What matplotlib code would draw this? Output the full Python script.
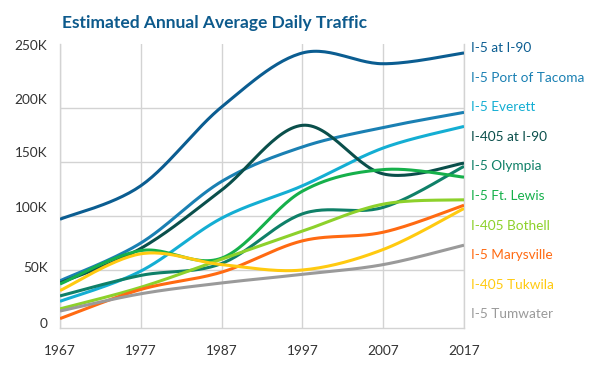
import matplotlib
matplotlib.use("Agg")
import matplotlib.pyplot as plt
import matplotlib.transforms as mtransforms
import numpy as np

plt.rcParams["font.family"] = ["Lato", "DejaVu Sans"]

# data (thousands of vehicles per day)
years = [1967, 1977, 1987, 1997, 2007, 2017]
route_names = [
    "I-5 at I-90", "I-5 Port of Tacoma", "I-5 Everett", "I-405 at I-90",
    "I-5 Olympia", "I-5 Ft. Lewis", "I-405 Bothell", "I-5 Marysville",
    "I-405 Tukwila", "I-5 Tumwater",
]
i5_at_i90 = [97, 128, 201, 251, 241, 251]
i5_tacoma = [40, 75, 132, 164, 182, 196]
i5_everett = [21, 49, 98, 128, 163, 183]
i405_at_i90 = [38, 70, 124, 184, 139, 149]
i5_olympia = [26, 45, 56, 102, 108, 146]
i5_ft_lewis = [37, 68, 61, 123, 143, 136]
i405_bothell = [14, 34, 60, 86, 111, 115]
i5_marysville = [5, 32, 48, 77, 85, 110]
i405_tukwila = [31, 65, 55, 50, 69, 107]
i5_tumwater = [12, 28, 38, 46, 55, 73]
series = [i5_at_i90, i5_tacoma, i5_everett, i405_at_i90, i5_olympia,
          i5_ft_lewis, i405_bothell, i5_marysville, i405_tukwila, i5_tumwater]
colours = ["#0b5d91", "#1a80b3", "#14aed3", "#0a4f4b", "#0f8068",
           "#16b04b", "#8dd12b", "#ff6a12", "#ffca10", "#9a9a9a"]

y_ticks = [0, 50, 100, 150, 200, 250]
y_tick_labels = ["0", "50K", "100K", "150K", "200K", "250K"]
x_ticks = [1967, 1977, 1987, 1997, 2007, 2017]

GRID = "#d3d3d3"
TEXT = "#333333"


def smooth(xs, ys, steps=30):
    """Excel-style smoothed line: cubic Bezier through every point."""
    pts = np.column_stack([xs, ys]).astype(float)
    padded = np.vstack([pts[0], pts, pts[-1]])
    out = []
    t = np.linspace(0, 1, steps)[:, None]
    for i in range(len(pts) - 1):
        p0, p1 = padded[i + 1], padded[i + 2]
        c1 = p0 + (padded[i + 2] - padded[i]) / 6
        c2 = p1 - (padded[i + 3] - padded[i + 1]) / 6
        seg = ((1 - t) ** 3 * p0 + 3 * (1 - t) ** 2 * t * c1
               + 3 * (1 - t) * t ** 2 * c2 + t ** 3 * p1)
        out.append(seg if i == 0 else seg[1:])
    out = np.vstack(out)
    return out[:, 0], out[:, 1]


fig = plt.figure(figsize=(5.95, 3.74), dpi=100)
ax = fig.add_axes([60 / 595, 46 / 374, 404 / 595, 284 / 374])

for values, colour in zip(series, colours):
    sx, sy = smooth(years, values)
    ax.plot(sx, sy, color=colour, linewidth=2.2, solid_capstyle="butt", zorder=3)

ax.set_xlim(1967, 2017)
ax.set_ylim(-3.7, 259.3)

for x in x_ticks:
    ax.axvline(x, color=GRID, linewidth=1, zorder=1)
for y in y_ticks[1:-1]:
    ax.axhline(y, color=GRID, linewidth=1, zorder=1)

ax.spines["top"].set_visible(False)
for side in ("left", "right", "bottom"):
    ax.spines[side].set_color(GRID)
    ax.spines[side].set_linewidth(1)

ax.set_xticks(x_ticks)
ax.set_xticklabels([str(x) for x in x_ticks])
ax.set_yticks(y_ticks)
ax.set_yticklabels(y_tick_labels)
ax.tick_params(length=0, labelsize=9.8, colors=TEXT)
ax.tick_params(axis="x", pad=12)
ax.tick_params(axis="y", pad=9)

# tick labels sit a little above their gridlines in the reference
label_lift_px = [1, 3, 9, 10, 9, 9]
for label, lift in zip(ax.get_yticklabels(), label_lift_px):
    label.set_transform(label.get_transform()
                        + mtransforms.ScaledTranslation(0, lift / 100, fig.dpi_scale_trans))

fig.text(62 / 595, 1 - 23 / 374, "Estimated Annual Average Daily Traffic",
         fontsize=12.5, fontweight="bold", color="#0d5a8c", va="center", ha="left")

for i, (name, colour) in enumerate(zip(route_names, colours)):
    fig.text(471 / 595, 1 - (48 + i * 29.6) / 374, name, fontsize=9.8,
             color=colour, va="center", ha="left")

fig.savefig("out.png", dpi=100)
